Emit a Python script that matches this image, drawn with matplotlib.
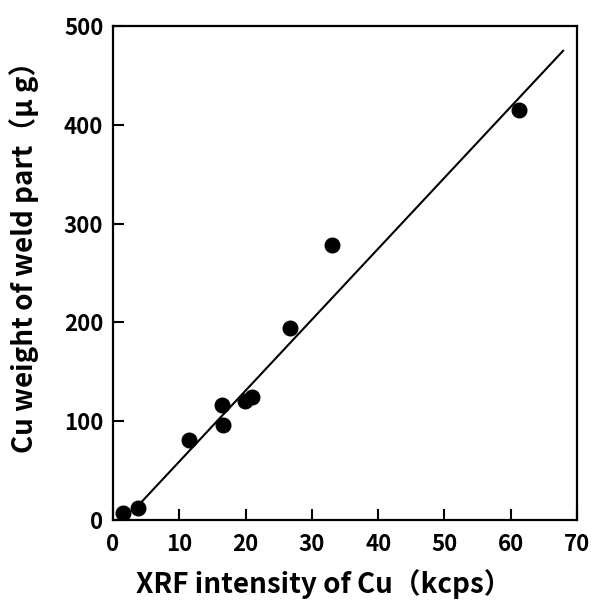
import matplotlib
matplotlib.use("Agg")
import matplotlib.pyplot as plt
import numpy as np

plt.rcParams["font.family"] = ["Noto Sans CJK JP", "DejaVu Sans"]
plt.rcParams["font.weight"] = "bold"

# measured points: XRF intensity (kcps) vs Cu weight (ug)
xrf = [1.5, 3.7, 11.4, 16.4, 16.6, 19.9, 21.0, 26.7, 33.0, 61.3]
cu_weight = [7, 12, 81, 116, 96, 120, 124, 194, 278, 415]

# calibration line
fit_slope = 7.18
fit_intercept = -12.6
fit_x = [4.3, 67.9]

fig = plt.figure(figsize=(5.92, 6.0), dpi=100)
ax = fig.add_axes([0.1909, 0.1333, 0.7838, 0.8234])

fx = np.array(fit_x)
ax.plot(fx, fit_slope * fx + fit_intercept, color="black", linewidth=1.5)
ax.plot(xrf, cu_weight, "o", color="black", markersize=10.5)

ax.set_xlim(0, 70)
ax.set_ylim(0, 500)
ax.set_xticks(range(0, 71, 10))
ax.set_yticks(range(0, 501, 100))

for s in ax.spines.values():
    s.set_linewidth(1.6)

ax.tick_params(direction="in", length=8, width=1.5, labelsize=16)
ax.tick_params(axis="x", pad=9)
ax.tick_params(axis="y", pad=7)
ax.set_xlabel("XRF intensity of Cu（kcps）", fontsize=20, fontweight="bold")
ax.set_ylabel("Cu weight of weld part（μ g）", fontsize=20, fontweight="bold")
ax.xaxis.set_label_coords(0.455, -0.1)
ax.yaxis.set_label_coords(-0.16, 0.545)

plt.savefig("out.png", dpi=100)
